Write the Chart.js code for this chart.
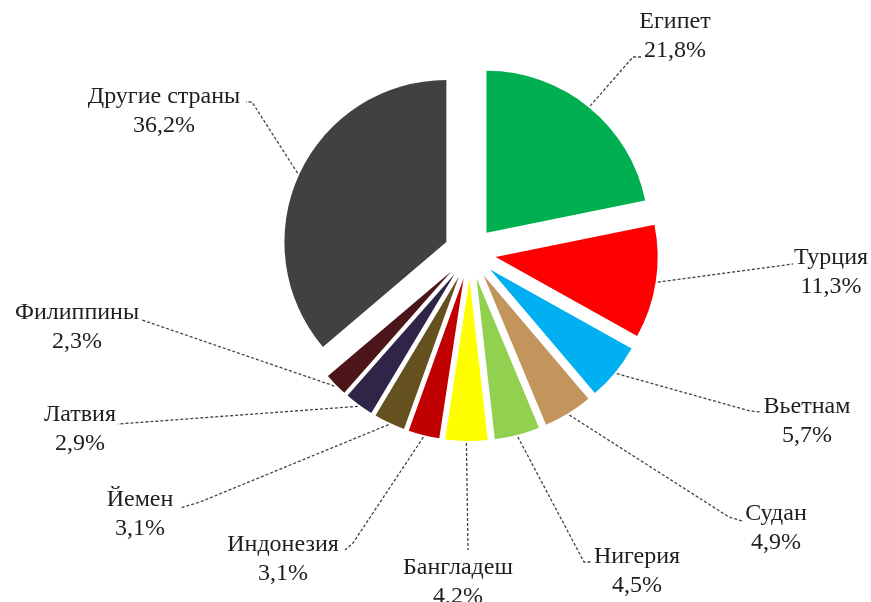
<!DOCTYPE html>
<html lang="ru">
<head>
<meta charset="utf-8">
<title>Доли стран</title>
<script src="https://cdn.jsdelivr.net/npm/chart.js@4.4.1/dist/chart.umd.min.js"></script>
<style>
    html, body { margin: 0; padding: 0; background: #fff; }
    canvas { display: block; }
</style>
</head>
<body>
<canvas id="pieChart" width="871" height="602"></canvas>
<script>
// Данные
const countries = ['Египет', 'Турция', 'Вьетнам', 'Судан', 'Нигерия', 'Бангладеш',
    'Индонезия', 'Йемен', 'Латвия', 'Филиппины', 'Другие страны'];
const shares = [21.8, 11.3, 5.7, 4.9, 4.5, 4.2, 3.1, 3.1, 2.9, 2.3, 36.2];
const sliceColors = ['#00b050', '#ff0000', '#00b0f0', '#c3955c', '#92d050', '#ffff00',
    '#c00000', '#65501f', '#2e2548', '#4b1519', '#414141'];

// Расположение подписей: центр первой строки и точки выноски
const labelLayout = [
    { x: 675, y: 22,  pts: [[633, 57], [641, 57]] },
    { x: 831, y: 258, pts: [[793, 264]] },
    { x: 807, y: 407, pts: [[750, 411], [761, 412]] },
    { x: 776, y: 514, pts: [[729, 517], [742, 521]] },
    { x: 637, y: 557, pts: [[584, 562], [592, 562]] },
    { x: 458, y: 568, pts: [[468, 550]] },
    { x: 283, y: 545, pts: [[353, 543], [345, 550]] },
    { x: 140, y: 500, pts: [[200, 502], [180, 508]] },
    { x: 80,  y: 415, pts: [[118, 424]] },
    { x: 77,  y: 313, pts: [[142, 320]] },
    { x: 164, y: 97,  pts: [[252, 102], [246, 102]] }
];

const EXPLODE = 26;
const FONT = '24px "Liberation Serif", "Times New Roman", serif';

// Сдвиг секторов от центра
const explodePlugin = {
    id: 'explode',
    afterDatasetsUpdate(chart) {
        chart.getDatasetMeta(0).data.forEach(arc => {
            const mid = (arc.startAngle + arc.endAngle) / 2;
            arc.x += Math.cos(mid) * EXPLODE;
            arc.y += Math.sin(mid) * EXPLODE;
        });
    }
};

// Подписи с пунктирными выносками
const labelPlugin = {
    id: 'pieLabels',
    afterDraw(chart) {
        const ctx = chart.ctx;
        const meta = chart.getDatasetMeta(0);
        ctx.save();
        meta.data.forEach((arc, i) => {
            const lay = labelLayout[i];
            const mid = (arc.startAngle + arc.endAngle) / 2;
            const r = arc.outerRadius + 2;

            ctx.beginPath();
            ctx.setLineDash([3, 2]);
            ctx.lineWidth = 1.3;
            ctx.strokeStyle = '#444';
            ctx.moveTo(arc.x + Math.cos(mid) * r, arc.y + Math.sin(mid) * r);
            lay.pts.forEach(p => ctx.lineTo(p[0], p[1]));
            ctx.stroke();

            ctx.setLineDash([]);
            ctx.fillStyle = '#1e1e1e';
            ctx.font = FONT;
            ctx.textAlign = 'center';
            ctx.textBaseline = 'middle';
            ctx.fillText(countries[i], lay.x, lay.y);
            ctx.fillText(shares[i].toFixed(1).replace('.', ',') + '%', lay.x, lay.y + 29);
        });
        ctx.restore();
    }
};

const ctx = document.getElementById('pieChart').getContext('2d');
const pieChart = new Chart(ctx, {
    type: 'pie',
    data: {
        labels: countries,
        datasets: [{
            data: shares,
            backgroundColor: sliceColors,
            borderWidth: 0,
            radius: 162
        }]
    },
    options: {
        responsive: false,
        animation: false,
        events: [],
        layout: { padding: { left: 69, right: 0, top: 0, bottom: 96 } },
        plugins: {
            legend: { display: false },
            tooltip: { enabled: false }
        }
    },
    plugins: [explodePlugin, labelPlugin]
});
</script>
</body>
</html>
